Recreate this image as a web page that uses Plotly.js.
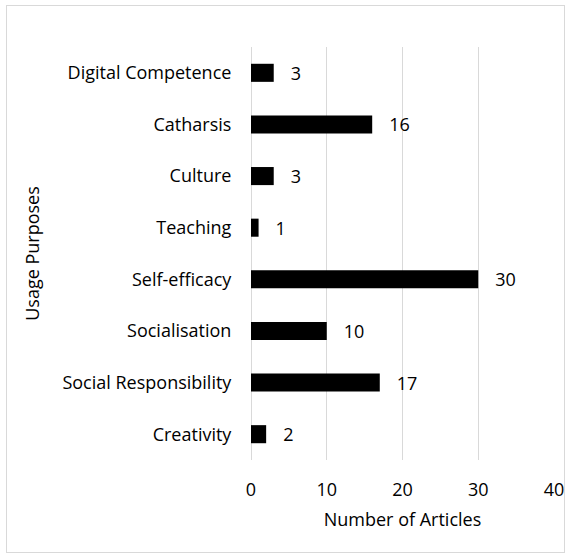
<!DOCTYPE html>
<html>
<head>
<meta charset="utf-8">
<script src="https://cdn.plot.ly/plotly-3.0.1.min.js"></script>
<style>
html,body{margin:0;padding:0;background:#fff;}
#wrap{position:relative;width:570px;height:557px;}
#chart{width:570px;height:557px;}
#frame{position:absolute;left:6px;top:5px;width:557px;height:546px;border:1px solid #d9d9d9;pointer-events:none;}
</style>
</head>
<body>
<div id="wrap"><div id="chart"></div><div id="frame"></div></div>
<script>
const categories = ["Creativity","Social Responsibility","Socialisation","Self-efficacy","Teaching","Culture","Catharsis","Digital Competence"];
const articles = [2,17,10,30,1,3,16,3];
const xTicks = [0,10,20,30,40];

const font = {family:"Open Sans, Liberation Sans, sans-serif", size:18, color:"#000"};

Plotly.newPlot("chart",[{
  type:"bar",
  orientation:"h",
  y:categories,
  x:articles,
  marker:{color:"#000"},
  width:0.35,
  text:articles.map(v=>"\u00a0\u00a0\u00a0"+v),
  textposition:"outside",
  constraintext:"none",
  cliponaxis:false,
  textfont:font,
  hoverinfo:"none"
}],{
  width:570,height:557,
  margin:{l:251,r:16,t:47,b:97},
  paper_bgcolor:"#fff",plot_bgcolor:"#fff",
  font:font,
  showlegend:false,
  xaxis:{range:[0,40],tickvals:xTicks,showgrid:true,gridcolor:"#d9d9d9",gridwidth:1,
    zeroline:true,zerolinecolor:"#d9d9d9",showline:false,ticks:"outside",ticklen:13,tickcolor:"rgba(0,0,0,0)",
    tickfont:font,title:{text:"Number of Articles",font:font,standoff:13},fixedrange:true},
  yaxis:{type:"category",categoryorder:"array",categoryarray:categories,showgrid:false,zeroline:false,showline:false,
    ticks:"outside",ticklen:15,tickcolor:"rgba(0,0,0,0)",tickfont:font,
    title:{text:"Usage Purposes",font:font,standoff:18},fixedrange:true}
},{displayModeBar:false,staticPlot:true});
</script>
</body>
</html>
